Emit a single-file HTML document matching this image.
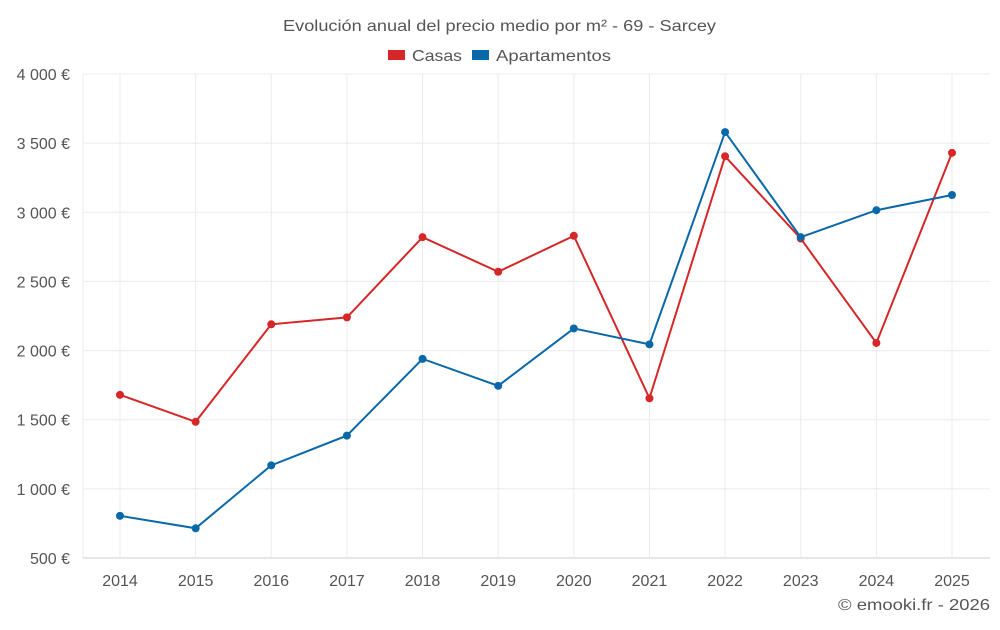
<!DOCTYPE html>
<html><head><meta charset="utf-8"><style>
body{margin:0;background:#fff;font-family:"Liberation Sans",sans-serif}
svg text{font-family:"Liberation Sans",sans-serif;fill:#555}
</style></head><body>
<svg id="c" width="1000" height="625">
<text x="283" y="31" font-size="16" textLength="433" lengthAdjust="spacingAndGlyphs">Evolución anual del precio medio por m² - 69 - Sarcey</text>
<g>
<rect x="388" y="50" width="17" height="10" fill="#d62728"/>
<text x="412" y="61" font-size="16" textLength="50" lengthAdjust="spacingAndGlyphs">Casas</text>
<rect x="472" y="50" width="17" height="10" fill="#0868a8"/>
<text x="496" y="61" font-size="16" textLength="115" lengthAdjust="spacingAndGlyphs">Apartamentos</text>
</g>
<g id="grid"></g><g id="marks"></g>
<text x="838" y="610" font-size="16" textLength="152" lengthAdjust="spacingAndGlyphs">© emooki.fr - 2026</text>
</svg>
<script>
const years=[2014,2015,2016,2017,2018,2019,2020,2021,2022,2023,2024,2025];
const casas=[1680,1485,2190,2240,2820,2570,2830,1655,3405,2810,2055,3430];
const apartamentos=[805,715,1170,1385,1940,1745,2160,2045,3580,2820,3015,3125];
const yTicks=[500,1000,1500,2000,2500,3000,3500,4000];
const yLabels=["500 €","1 000 €","1 500 €","2 000 €","2 500 €","3 000 €","3 500 €","4 000 €"];
const L=83,R=990,T=74,B=558,ymin=500,ymax=4000;
const ns="http://www.w3.org/2000/svg";
const xs=i=>120+i*(952-120)/(years.length-1);
const ys=v=>B-(v-ymin)/(ymax-ymin)*(B-T);
function mk(t,a,p){const e=document.createElementNS(ns,t);for(const k in a)e.setAttribute(k,a[k]);p.appendChild(e);return e;}
const g=document.getElementById('grid'),m=document.getElementById('marks');
yTicks.forEach((v,i)=>{
 const l=mk('line',{x1:L,x2:R,y1:ys(v),y2:ys(v),stroke:i==0?'#ccc':'#ebebeb'},g);
 
 
 const t=mk('text',{x:70,y:ys(v)+6,'text-anchor':'end','font-size':16},g);t.textContent=yLabels[i];
 
 
});
years.forEach((y,i)=>{
 const l=mk('line',{x1:xs(i),x2:xs(i),y1:T,y2:B,stroke:'#ebebeb'},g);
 
 
 const t=mk('text',{x:xs(i),y:586,'text-anchor':'middle','font-size':16},g);t.textContent=y;
 
 
});
mk('line',{x1:L,x2:L,y1:T,y2:B,stroke:'#ebebeb'},g);
function series(d,c,n){
 const p=mk('polyline',{points:d.map((v,i)=>xs(i)+','+ys(v)).join(' '),fill:'none',stroke:c,'stroke-width':2},m);
 
 
 d.forEach((v,i)=>{const e=mk('circle',{cx:xs(i),cy:ys(v),r:4,fill:c},m);
 
 });
}
series(casas,'#d62728','casas');
series(apartamentos,'#0868a8','apartamentos');
</script>
</body></html>
